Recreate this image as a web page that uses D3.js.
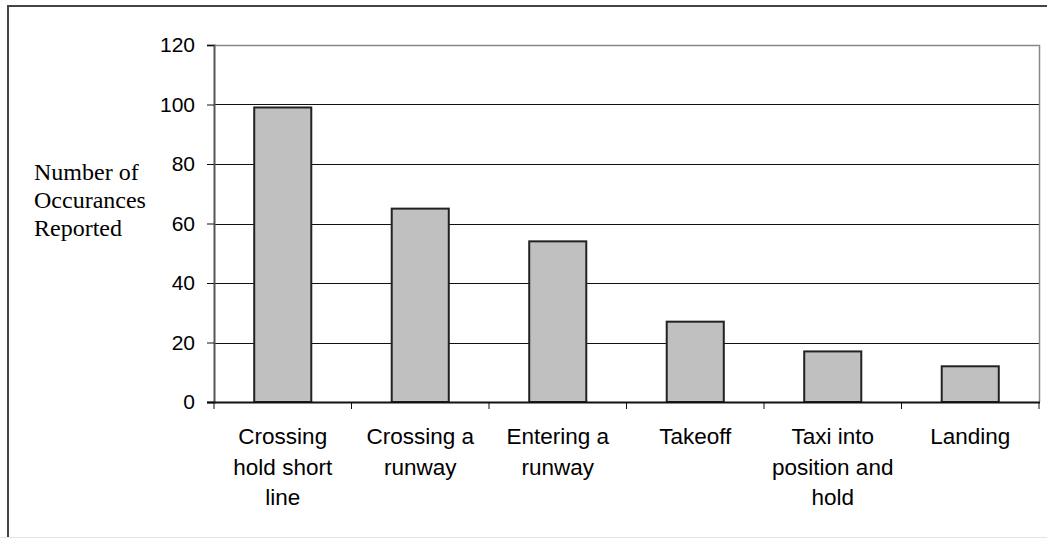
<!DOCTYPE html>
<html>
<head>
    <title>Occurances reported</title>
    <meta charset="utf-8" />
    <script src="https://cdn.jsdelivr.net/npm/d3@7"></script>
    <style>
        body { margin: 0; background: #fff; }
        .tick text { font-family: Arial, "Liberation Sans", sans-serif; }
    </style>
</head>
<body>
    <svg width="1047" height="538"></svg>
    <script>

        var categories = ["Crossing hold short line", "Crossing a runway", "Entering a runway",
                          "Takeoff", "Taxi into position and hold", "Landing"];
        var labelLines = [["Crossing", "hold short", "line"], ["Crossing a", "runway"], ["Entering a", "runway"],
                          ["Takeoff"], ["Taxi into", "position and", "hold"], ["Landing"]];
        var occurances = [99, 65, 54, 27, 17, 12];
        var yTicks = [0, 20, 40, 60, 80, 100, 120];
        var yTitle = ["Number of", "Occurances", "Reported"];

        var svg = d3.select("svg"),
            width = +svg.attr("width"),
            height = +svg.attr("height");

        var plotLeft = 214, plotRight = 1039, plotTop = 45, plotBottom = 402;

        // outer frame
        svg.append("path")
            .attr("d", "M8," + height + "V6H" + width)
            .attr("fill", "none")
            .attr("stroke", "#444")
            .attr("stroke-width", 2);
        svg.append("line")
            .attr("x1", 0).attr("x2", width)
            .attr("y1", 537.5).attr("y2", 537.5)
            .attr("stroke", "#e4e4e4");

        var x = d3.scaleBand()
            .domain(categories)
            .range([plotLeft, plotRight])
            .paddingInner(0.585)
            .paddingOuter(0.2925);

        var y = d3.scaleLinear()
            .domain([0, 120])
            .range([plotBottom, plotTop]);

        // gridlines
        svg.append("g")
            .selectAll("line")
            .data(yTicks.filter(function (d) { return d > 0 && d < 120; }))
            .enter()
            .append("line")
            .attr("x1", plotLeft).attr("x2", plotRight)
            .attr("y1", function (d) { return Math.round(y(d)) + 0.5; })
            .attr("y2", function (d) { return Math.round(y(d)) + 0.5; })
            .attr("stroke", "#111")
            .attr("stroke-width", 1);

        // plot frame top + right
        svg.append("path")
            .attr("d", "M" + plotLeft + "," + (plotTop + 0.5) + "H" + (plotRight + 0.5) + "V" + plotBottom)
            .attr("fill", "none")
            .attr("stroke", "#888")
            .attr("stroke-width", 1.5);

        // bars
        svg.append("g")
            .selectAll("rect")
            .data(occurances)
            .enter()
            .append("rect")
            .attr("x", function (d, i) { return x(categories[i]); })
            .attr("width", x.bandwidth())
            .attr("y", function (d) { return y(d); })
            .attr("height", function (d) { return plotBottom - y(d); })
            .attr("fill", "#c0c0c0")
            .attr("stroke", "#222")
            .attr("stroke-width", 2);

        // y axis
        var yAxis = svg.append("g")
            .attr("transform", "translate(" + plotLeft + ",0)")
            .call(d3.axisLeft(y).tickValues(yTicks).tickSize(7).tickPadding(12));
        yAxis.select(".domain").attr("stroke", "#555").attr("stroke-width", 2);
        yAxis.selectAll(".tick line").attr("stroke", "#111");
        yAxis.selectAll(".tick text")
            .attr("font-size", 21)
            .attr("fill", "#000");

        // x axis
        var xAxis = svg.append("g")
            .attr("transform", "translate(0," + plotBottom + ")");
        xAxis.append("line")
            .attr("x1", plotLeft - 7).attr("x2", plotRight + 1)
            .attr("y1", 0.5).attr("y2", 0.5)
            .attr("stroke", "#111")
            .attr("stroke-width", 2);
        var step = x.step();
        xAxis.selectAll(".xtick")
            .data(d3.range(categories.length + 1))
            .enter()
            .append("line")
            .attr("x1", function (d) { return plotLeft + d * step; })
            .attr("x2", function (d) { return plotLeft + d * step; })
            .attr("y1", 0).attr("y2", 7)
            .attr("stroke", "#111");

        var labels = svg.append("g")
            .attr("font-family", "Arial, 'Liberation Sans', sans-serif")
            .attr("font-size", 22.5)
            .attr("text-anchor", "middle")
            .selectAll("text")
            .data(categories)
            .enter()
            .append("text")
            .attr("x", function (d) { return x(d) + x.bandwidth() / 2; })
            .attr("y", 444);
        labels.selectAll("tspan")
            .data(function (d, i) { return labelLines[i]; })
            .enter()
            .append("tspan")
            .attr("x", function () { return this.parentNode.getAttribute("x"); })
            .attr("dy", function (d, i) { return i === 0 ? 0 : 30.5; })
            .text(function (d) { return d; });

        // y title
        svg.append("text")
            .attr("font-family", "'Liberation Serif', 'Times New Roman', serif")
            .attr("font-size", 24)
            .selectAll("tspan")
            .data(yTitle)
            .enter()
            .append("tspan")
            .attr("x", 34)
            .attr("y", function (d, i) { return 180 + i * 28; })
            .text(function (d) { return d; });

    </script>
</body>
</html>
